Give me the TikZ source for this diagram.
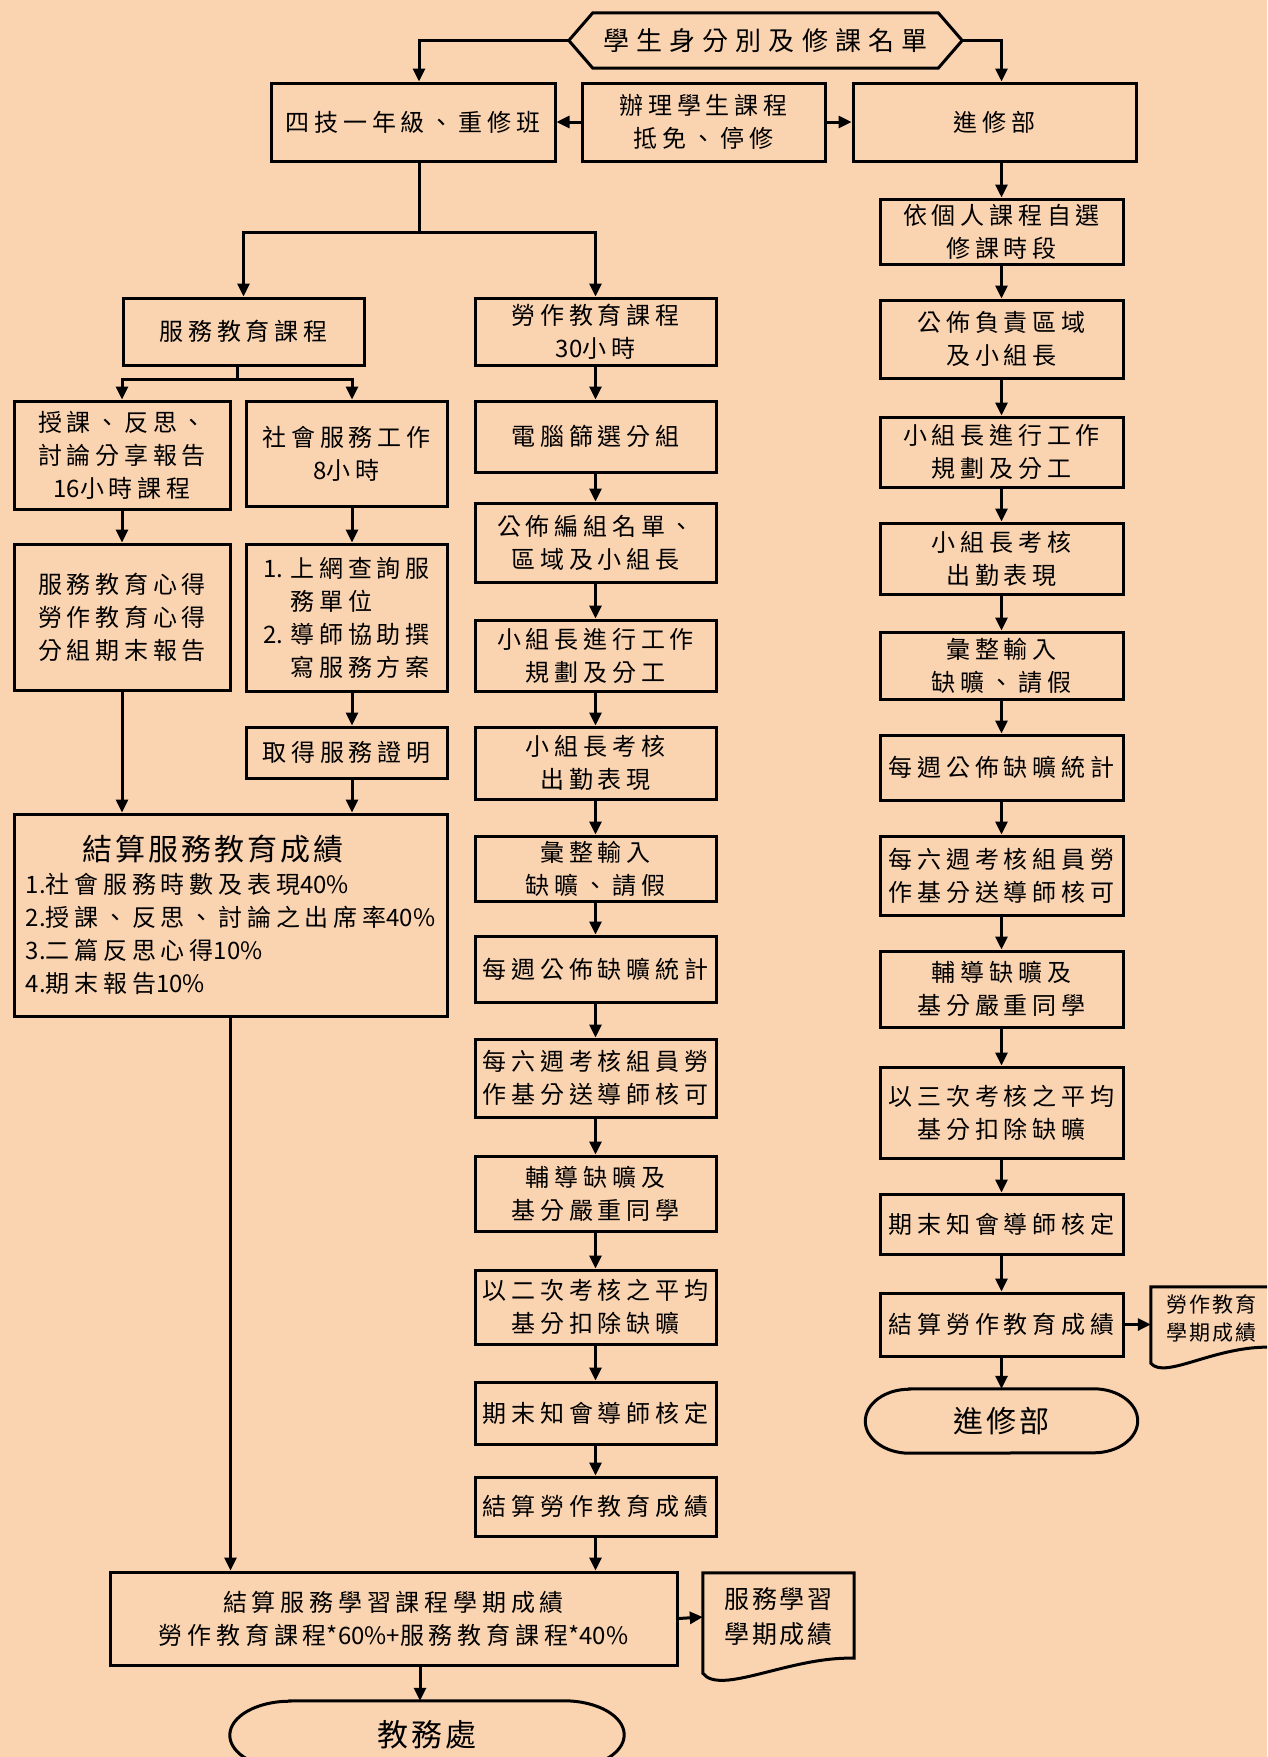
\documentclass[tikz,border=0pt]{standalone}
\usepackage{fontspec}
\newfontfamily\cjk{Noto Sans CJK TC}[LetterSpace=20]
\newfontfamily\cjkw{Noto Sans CJK TC}[LetterSpace=27]
\newfontfamily\cjkn{Noto Sans CJK TC}[LetterSpace=10]
\newfontfamily\cjkz{Noto Sans CJK TC}
\newcommand\lat[1]{{\cjkz #1}}
\usetikzlibrary{arrows.meta}
\definecolor{bg}{RGB}{250,211,177}
\tikzset{
  box/.style={draw, line width=3pt, fill=bg, inner sep=1pt, align=center,
    font=\cjk\fontsize{24}{33}\selectfont},
  plain/.style={draw=none, inner sep=1pt, align=center,
    font=\cjk\fontsize{24}{33}\selectfont},
  conn/.style={line width=3pt},
  arr/.style={conn, -{Triangle[width=12pt,length=13pt]}},
  shp/.style={line width=3pt, line join=miter},
}
\begin{document}
\begin{tikzpicture}[x=1pt,y=-1pt]
\fill[bg] (0,0) rectangle (1267,1757);
\useasboundingbox (0,0) rectangle (1267,1757);
\clip (0,0) rectangle (1267,1757);

% top
\node[plain, minimum width=393pt, minimum height=55pt, font=\cjkw\fontsize{26}{30}\selectfont] (H) at (765.5,40.5) {學生身分別及修課名單};
\draw[shp] ([xshift=24pt]H.north west) -- ([xshift=-24pt]H.north east) -- (H.east) -- ([xshift=-24pt]H.south east) -- ([xshift=24pt]H.south west) -- (H.west) -- cycle;

\node[box, minimum width=284pt, minimum height=78pt] (A) at (413,122) {四技一年級、重修班};
\node[box, minimum width=243pt, minimum height=78pt] (B) at (703.5,122) {辦理學生課程\\抵免、停修};
\node[box, minimum width=283pt, minimum height=78pt] (C) at (994.5,122) {進修部};

% left column
\node[box, minimum width=241pt, minimum height=67pt] (S1) at (243.5,331.5) {服務教育課程};
\node[box, minimum width=216pt, minimum height=108pt] (S2) at (122,455) {授課、反思、\\討論分享報告\\\lat{16}小時課程};
\node[box, minimum width=201pt, minimum height=105pt] (S3) at (346.5,453.5) {社會服務工作\\\lat{8}小時};
\node[box, minimum width=216pt, minimum height=146pt] (S4) at (122,617) {服務教育心得\\勞作教育心得\\分組期末報告};
\node[box, minimum width=201pt, minimum height=147pt, align=left] (S5) at (346.5,617.5) {\lat{1. }上網查詢服\\\phantom{\lat{1. }}務單位\\\lat{2. }導師協助撰\\\phantom{\lat{2. }}寫服務方案};
\node[box, minimum width=201pt, minimum height=51pt] (S6) at (346.5,752.5) {取得服務證明};
\node[box, minimum width=433pt, minimum height=202pt, align=left] (S7) at (230.5,915) {\hspace*{57pt}{\cjkn\fontsize{30}{35}\selectfont 結算服務教育成績}\\\lat{1.}社會服務時數及表現\lat{40\%}\\\lat{2.}授課、反思、討論之出席率\lat{40\%}\\\lat{3.}二篇反思心得\lat{10\%}\\\lat{4.}期末報告\lat{10\%}};

% middle column
\node[box, minimum width=241pt, minimum height=67pt] (M1) at (595.5,331.5) {勞作教育課程\\\lat{30}小時};
\node[box, minimum width=241pt, minimum height=71pt] (M2) at (595.5,436.5) {電腦篩選分組};
\node[box, minimum width=241pt, minimum height=79pt] (M3) at (595.5,542.5) {公佈編組名單、\\區域及小組長};
\node[box, minimum width=241pt, minimum height=71pt] (M4) at (595.5,655.5) {小組長進行工作\\規劃及分工};
\node[box, minimum width=241pt, minimum height=72pt] (M5) at (595.5,763) {小組長考核\\出勤表現};
\node[box, minimum width=241pt, minimum height=65pt] (M6) at (595.5,868.5) {彙整輸入\\缺曠、請假};
\node[box, minimum width=241pt, minimum height=66pt] (M7) at (595.5,969) {每週公佈缺曠統計};
\node[box, minimum width=241pt, minimum height=78pt] (M8) at (595.5,1078) {每六週考核組員勞\\作基分送導師核可};
\node[box, minimum width=241pt, minimum height=75pt] (M9) at (595.5,1193.5) {輔導缺曠及\\基分嚴重同學};
\node[box, minimum width=241pt, minimum height=74pt] (M10) at (595.5,1307) {以二次考核之平均\\基分扣除缺曠};
\node[box, minimum width=241pt, minimum height=62pt] (M11) at (595.5,1413) {期末知會導師核定};
\node[box, minimum width=241pt, minimum height=59pt] (M12) at (595.5,1506.5) {結算勞作教育成績};

% bottom
\node[box, minimum width=567pt, minimum height=93pt] (F) at (393.5,1618.5) {結算服務學習課程學期成績\\勞作教育課程\lat{*60\%+}服務教育課程\lat{*40\%}};
\node[plain, minimum width=151pt, minimum height=88pt, font=\cjkn\fontsize{25}{35}\selectfont] (D1) at (778.5,1617) {服務學習\\學期成績};
\draw[shp] (D1.north west) -- (D1.north east) -- ([yshift=3pt]D1.south east)
  .. controls ([xshift=11.5pt,yshift=5pt]D1.south) and ([xshift=-58.5pt,yshift=-35pt]D1.south) .. ([yshift=-12pt]D1.south west) -- cycle;
\node[plain, minimum width=394pt, minimum height=68pt, font=\cjkn\fontsize{31}{35}\selectfont] (T1) at (427,1735) {教務處};
\draw[shp] ([xshift=60pt]T1.north west) -- ([xshift=-60pt]T1.north east)
  arc[start angle=90, end angle=-90, x radius=60pt, y radius=34pt]
  -- ([xshift=60pt]T1.south west)
  arc[start angle=270, end angle=90, x radius=60pt, y radius=34pt] -- cycle;

% right column
\node[box, minimum width=243pt, minimum height=65pt] (R1) at (1001.5,231.5) {依個人課程自選\\修課時段};
\node[box, minimum width=243pt, minimum height=78pt] (R2) at (1001.5,339) {公佈負責區域\\及小組長};
\node[box, minimum width=243pt, minimum height=70pt] (R3) at (1001.5,452) {小組長進行工作\\規劃及分工};
\node[box, minimum width=243pt, minimum height=71pt] (R4) at (1001.5,558.5) {小組長考核\\出勤表現};
\node[box, minimum width=243pt, minimum height=67pt] (R5) at (1001.5,665.5) {彙整輸入\\缺曠、請假};
\node[box, minimum width=243pt, minimum height=65pt] (R6) at (1001.5,767.5) {每週公佈缺曠統計};
\node[box, minimum width=243pt, minimum height=79pt] (R7) at (1001.5,875.5) {每六週考核組員勞\\作基分送導師核可};
\node[box, minimum width=243pt, minimum height=76pt] (R8) at (1001.5,989) {輔導缺曠及\\基分嚴重同學};
\node[box, minimum width=243pt, minimum height=91pt] (R9) at (1001.5,1112.5) {以三次考核之平均\\基分扣除缺曠};
\node[box, minimum width=243pt, minimum height=60pt] (R10) at (1001.5,1224) {期末知會導師核定};
\node[box, minimum width=243pt, minimum height=63pt] (R11) at (1001.5,1324.5) {結算勞作教育成績};
\node[plain, minimum width=121pt, minimum height=63pt, font=\cjkn\fontsize{21}{28}\selectfont] (D2) at (1211.5,1318.5) {勞作教育\\學期成績};
\draw[shp] (D2.north west) -- (D2.north east) -- ([yshift=3pt]D2.south east)
  .. controls ([xshift=3.5pt,yshift=5pt]D2.south) and ([xshift=-46.5pt,yshift=-30pt]D2.south) .. ([yshift=-13pt]D2.south west) -- cycle;
\node[plain, minimum width=272pt, minimum height=64pt, font=\cjkn\fontsize{30}{35}\selectfont] (T2) at (1001.5,1421) {進修部};
\draw[shp] ([xshift=44pt]T2.north west) -- ([xshift=-44pt]T2.north east)
  arc[start angle=90, end angle=-90, x radius=44pt, y radius=32pt]
  -- ([xshift=44pt]T2.south west)
  arc[start angle=270, end angle=90, x radius=44pt, y radius=32pt] -- cycle;

% connectors
\draw[arr] (H.west) -| ([xshift=6pt]A.north);
\draw[arr] (H.east) -| (C.north -| R1.north);
\draw[arr] (B.west) -- (A.east);
\draw[arr] (B.east) -- (C.west);
\coordinate (J1) at (419,232);
\draw[conn] ([xshift=6pt]A.south) -- (J1);
\draw[arr] (J1) -| (S1.north);
\draw[arr] (J1) -| (M1.north);
\coordinate (J2) at (237,379);
\draw[conn] ([xshift=-6.5pt]S1.south) -- (J2);
\draw[arr] (J2) -| (S2.north);
\draw[arr] (J2) -| ([xshift=5.5pt]S3.north);
\draw[arr] (S2.south) -- (S4.north);
\draw[arr] ([xshift=5.5pt]S3.south) -- ([xshift=5.5pt]S5.north);
\draw[arr] ([xshift=5.5pt]S5.south) -- ([xshift=5.5pt]S6.north);
\draw[arr] (S4.south) -- (S4.south |- S7.north);
\draw[arr] ([xshift=5.5pt]S6.south) -- ([xshift=5.5pt]S6.south |- S7.north);
\draw[arr] (S7.south) -- (S7.south |- F.north);
\foreach \a/\b in {M1/M2,M2/M3,M3/M4,M4/M5,M5/M6,M6/M7,M7/M8,M8/M9,M9/M10,M10/M11,M11/M12}
  \draw[arr] (\a.south) -- (\b.north);
\draw[arr] (M12.south) -- (M12.south |- F.north);
\draw[arr] (F.east) -- (D1.west);
\draw[arr] ([xshift=-7pt]T1.north |- F.south) -- ([xshift=-7pt]T1.north);
\draw[arr] (C.south -| R1.north) -- (R1.north);
\foreach \a/\b in {R1/R2,R2/R3,R3/R4,R4/R5,R5/R6,R6/R7,R7/R8,R8/R9,R9/R10,R10/R11}
  \draw[arr] (\a.south) -- (\b.north);
\draw[arr] (R11.south) -- (T2.north);
\draw[arr] (R11.east) -- (R11.east -| D2.west);
\end{tikzpicture}
\end{document}
